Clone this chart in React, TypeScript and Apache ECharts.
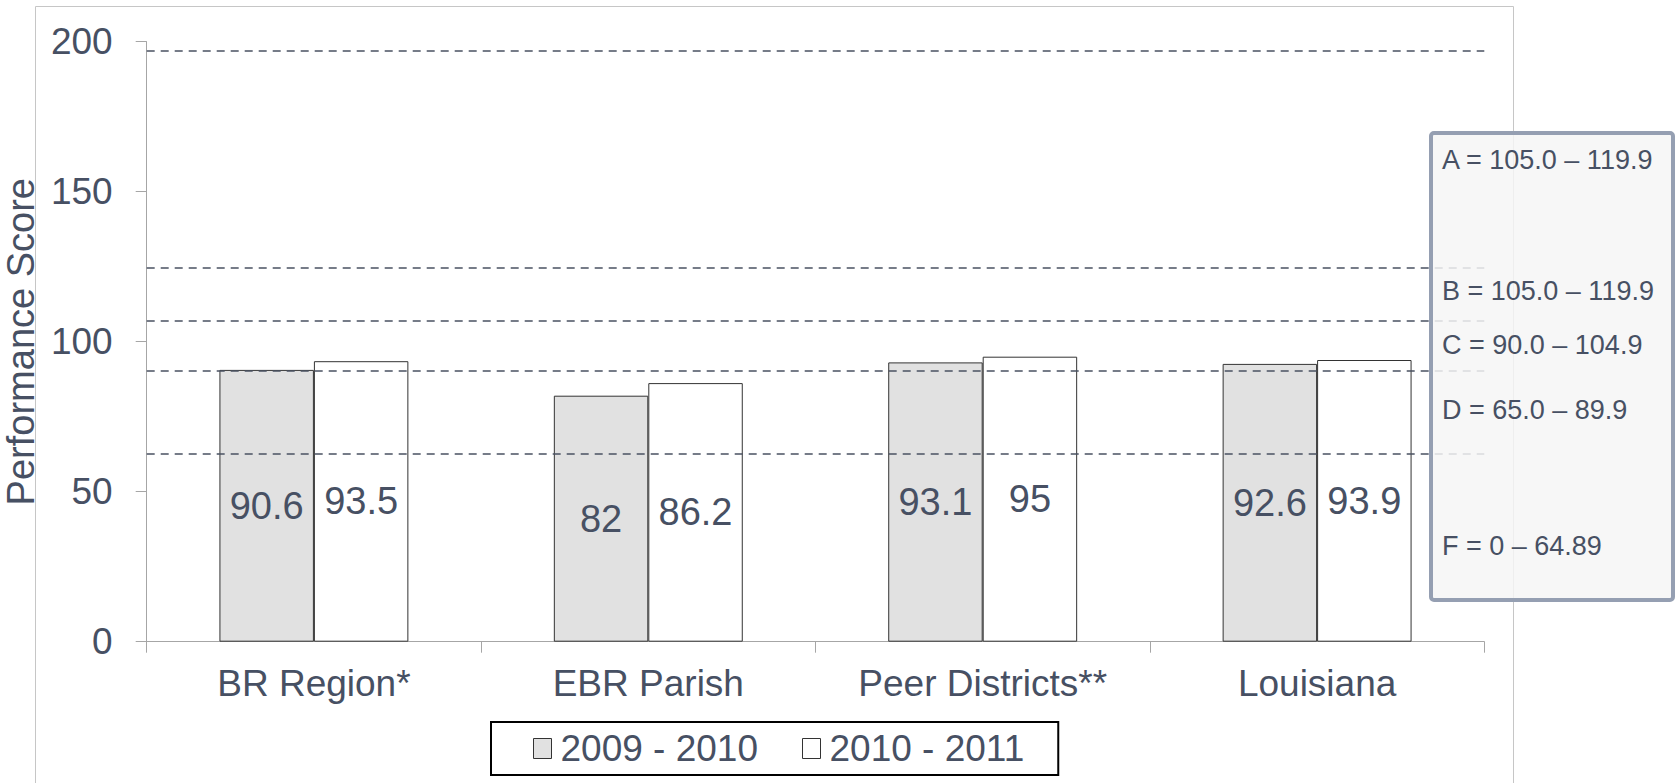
import React, { useEffect, useRef } from "react";
import * as echarts from "echarts";

const categories = ["BR Region*", "EBR Parish", "Peer Districts**", "Louisiana"];
const seriesNames = ["2009 - 2010", "2010 - 2011"];
const values2009 = [90.6, 82, 93.1, 92.6];
const values2010 = [93.5, 86.2, 95, 93.9];
const yMin = 0;
const yMax = 200;
const yInterval = 50;
const yAxisTitle = "Performance Score";
const gradeLineValues = [197, 124.5, 107, 90.4, 62.5];
const gradeLabels = [
  "A = 105.0 – 119.9",
  "B = 105.0 – 119.9",
  "C = 90.0 – 104.9",
  "D = 65.0 – 89.9",
  "F = 0 – 64.89",
];

const FONT = "'Liberation Sans', Arial, Helvetica, sans-serif";
const TEXT = "#475063";
const AXIS = "#a6a6a6";
const EDGE = "#333333";

// layout of the grade box (pixels)
const BOX = { x: 1431, y: 133, w: 242, h: 467 };
const GRADE_TEXT_X = 1442;
const GRADE_TEXT_Y = [160, 291, 345, 410, 546];

export default function App() {
  const ref = useRef<HTMLDivElement>(null);

  useEffect(() => {
    document.body.style.margin = "0";
    if (!ref.current) return;
    const chart = echarts.init(ref.current, undefined, { renderer: "svg" });

    const option: any = {
      animation: false,
      backgroundColor: "#ffffff",
      textStyle: { fontFamily: FONT },
      grid: {
        left: 146.7,
        right: 193.7,
        top: 41.7,
        bottom: 141.3,
        containLabel: false,
        outerBoundsMode: "none",
      },
      legend: {
        data: [
          { name: seriesNames[0], itemStyle: { color: "#e1e1e1", borderColor: EDGE, borderWidth: 1 } },
          { name: seriesNames[1], itemStyle: { color: "#ffffff", borderColor: EDGE, borderWidth: 1 } },
        ],
        left: 491,
        top: 722,
        orient: "horizontal",
        icon: "rect",
        itemWidth: 18,
        itemHeight: 20,
        itemGap: 44,
        padding: [8, 34, 8, 42],
        borderColor: "#000000",
        borderWidth: 2,
        backgroundColor: "#ffffff",
        textStyle: { fontSize: 37, color: TEXT, fontFamily: FONT, padding: [0, 0, 0, 4] },
      },
      xAxis: {
        type: "category",
        data: categories,
        axisLine: { show: true, lineStyle: { color: AXIS, width: 1 } },
        axisTick: { show: true, alignWithLabel: false, length: 11, lineStyle: { color: AXIS } },
        axisLabel: { fontSize: 37, color: TEXT, margin: 23, fontFamily: FONT, interval: 0 },
        splitLine: { show: false },
      },
      yAxis: {
        type: "value",
        min: yMin,
        max: yMax,
        interval: yInterval,
        name: yAxisTitle,
        nameLocation: "middle",
        nameGap: 96,
        nameTextStyle: { fontSize: 38, color: TEXT, fontFamily: FONT },
        axisLine: { show: true, lineStyle: { color: AXIS, width: 1 } },
        axisTick: { show: true, length: 11, lineStyle: { color: AXIS } },
        axisLabel: { fontSize: 37, color: TEXT, margin: 34, fontFamily: FONT },
        splitLine: { show: false },
      },
      series: [
        {
          name: seriesNames[0],
          type: "bar",
          data: values2009,
          barGap: "0%",
          barCategoryGap: "43.5%",
          itemStyle: { color: "#e1e1e1", borderColor: EDGE, borderWidth: 1 },
          label: { show: true, position: "inside", fontSize: 38, color: TEXT, fontFamily: FONT },
          markLine: {
            silent: true,
            symbol: "none",
            label: { show: false },
            lineStyle: { color: "#4a5262", type: [8, 6], width: 1.7, opacity: 1 },
            data: gradeLineValues.map((v) => ({ yAxis: v })),
          },
        },
        {
          name: seriesNames[1],
          type: "bar",
          data: values2010,
          barGap: "0%",
          barCategoryGap: "43.5%",
          itemStyle: { color: "#ffffff", borderColor: EDGE, borderWidth: 1 },
          label: { show: true, position: "inside", fontSize: 38, color: TEXT, fontFamily: FONT },
        },
      ],
      graphic: [
        {
          type: "rect",
          z: -10,
          silent: true,
          shape: { x: 35.5, y: 6.5, width: 1478, height: 900 },
          style: { fill: "none", stroke: "#c6c6c6", lineWidth: 1 },
        },
        {
          type: "rect",
          z: 50,
          silent: true,
          shape: { x: BOX.x, y: BOX.y, width: BOX.w, height: BOX.h, r: 3 },
          style: { fill: "rgba(245,245,245,0.84)", stroke: "#959fb2", lineWidth: 4 },
        },
        ...gradeLabels.map((t, i) => ({
          type: "text",
          z: 51,
          silent: true,
          x: GRADE_TEXT_X,
          y: GRADE_TEXT_Y[i],
          style: {
            text: t,
            fill: TEXT,
            fontSize: 27,
            fontFamily: FONT,
            verticalAlign: "middle",
            align: "left",
          },
        })),
      ],
    };

    chart.setOption(option);
    return () => {
      chart.dispose();
    };
  }, []);

  return <div ref={ref} style={{ width: 1678, height: 783 }} />;
}
